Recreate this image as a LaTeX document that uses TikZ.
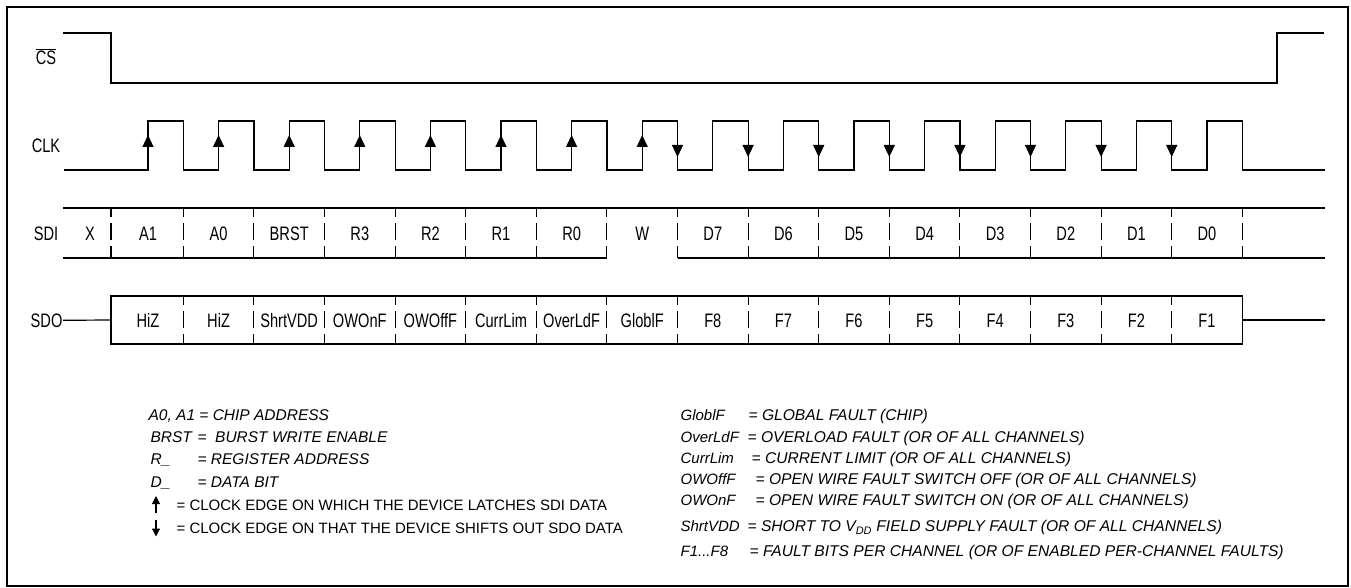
\documentclass[tikz,border=0pt]{standalone}
\usepackage{fontspec}
\setmainfont{Liberation Sans}
\newfontfamily\sigfont[FakeStretch=0.75]{Liberation Sans}
\usetikzlibrary{arrows.meta}
\tikzset{
  every picture/.style={line width=1.2pt},
  sig/.style={font=\sigfont\fontsize{19.5}{19.5}\selectfont, inner sep=0pt, anchor=base},
  wave/.style={draw=black, line width=1.2pt},
  divider/.style={draw=black, line width=1.1pt, dash pattern=on 9pt off 6pt on 17pt off 6pt on 12pt},
  legname/.style={font=\fontsize{15.5}{16}\selectfont\itshape, inner sep=0pt, anchor=base west},
  legtext/.style={font=\fontsize{15}{16}\selectfont, inner sep=0pt, anchor=base west},
  faultname/.style={font=\fontsize{15}{16}\selectfont\itshape, inner sep=0pt, anchor=base west},
  faultdef/.style={font=\fontsize{15.6}{16}\selectfont\itshape, inner sep=0pt, anchor=base west},
}

\begin{document}
\begin{tikzpicture}[x=1pt, y=-1pt,
  edge/.style={-{Triangle[length=12pt, width=11pt]}, line width=1.2pt},
  legedge/.style={-{Triangle[length=8pt, width=8pt]}, line width=1.2pt}]
  \useasboundingbox (0,0) rectangle (1351,588);
  \draw[line width=2pt] (7,7) rectangle (1348,586);
  \node[sig] (cs) at (46,64.5) {$\overline{\hbox{CS}}$};
  \node[sig] (clk) at (46,153) {CLK};
  \node[sig] (sdi) at (46,240) {SDI};
  \node[sig, anchor=base east] (sdo) at (63,327) {SDO};
  \draw[wave] (63,33) -- (111,33) -- (111,83) -- (1277,83) -- (1277,33) -- (1324,33);
  \draw[wave] (64,170) \foreach \k in {0,...,15}{ -- ({148+70.6*\k},170) -- ({148+70.6*\k},121)
    -- ({183.3+70.6*\k},121) -- ({183.3+70.6*\k},170)} -- (1325,170);
  \foreach \k in {0,...,7} \draw[edge] ({148+70.6*\k},170) -- ({148+70.6*\k},135);
  \foreach \k in {7,...,14} \draw[edge] ({183.3+70.6*\k},121) -- ({183.3+70.6*\k},157);
  \draw[wave] (63,208) -- (1325,208);
  \draw[wave] (63,258) -- (606.9,258);
  \draw[wave] (677.5,258) -- (1325,258);
  \draw[divider] (111,208) -- (111,258);
  \foreach \k in {0,...,15} \draw[divider] ({183.3+70.6*\k},208) -- ({183.3+70.6*\k},258);
  \node[sig] (x) at (90,240) {X};
  \foreach \b [count=\i from 0] in {A1,A0,BRST,R3,R2,R1,R0,W,D7,D6,D5,D4,D3,D2,D1,D0}
    \node[sig] (sdi\i) at ({148+70.6*\i},240) {\b};
  \draw[wave] (sdo.east) -- (111,320);
  \draw[wave] (111,296) rectangle (1242.3,344);
  \draw[wave] (1242.3,320) -- (1325,320);
  \foreach \k in {0,...,14} \draw[divider] ({183.3+70.6*\k},296) -- ({183.3+70.6*\k},344);
  \foreach \b [count=\i from 0] in {HiZ,HiZ,ShrtVDD,OWOnF,OWOffF,CurrLim,OverLdF,GloblF,F8,F7,F6,F5,F4,F3,F2,F1}
    \node[sig] (sdo\i) at ({148+70.6*\i},327) {\b};
  \node[legname] (addr) at (148,420.5) {A0, A1 = CHIP ADDRESS};
  \node[legname] (brst) at (150,442.5) {BRST};
  \node[legname] (brstdef) at (197,442.5) {=\hspace{0.55em}BURST WRITE ENABLE};
  \node[legname] (reg) at (150,464.5) {R\_};
  \node[legname] (regdef) at (197,464.5) {= REGISTER ADDRESS};
  \node[legname] (dat) at (150,487.5) {D\_};
  \node[legname] (datdef) at (197,487.5) {= DATA BIT};
  \node[legtext] (latch) at (176,510.5) {= CLOCK EDGE ON WHICH THE DEVICE LATCHES SDI DATA};
  \node[legtext] (shift) at (176,533.5) {= CLOCK EDGE ON THAT THE DEVICE SHIFTS OUT SDO DATA};
  \draw[legedge] ([xshift=-20pt, yshift=-2.5pt]latch.base west) -- ++(0,-17);
  \draw[legedge] ([xshift=-20pt, yshift=14pt]shift.base west) -- ++(0,17);
  \node[faultname] (glob) at (680,420.5) {GloblF};
  \node[faultdef] (globdef) at (748,420.5) {= GLOBAL FAULT (CHIP)};
  \node[faultname] (ovl) at (680,442.5) {OverLdF};
  \node[faultdef] (ovldef) at (747,442.5) {= OVERLOAD FAULT (OR OF ALL CHANNELS)};
  \node[faultname] (cur) at (680,463.5) {CurrLim};
  \node[faultdef] (curdef) at (751,463.5) {= CURRENT LIMIT (OR OF ALL CHANNELS)};
  \node[faultname] (owoff) at (680,484.5) {OWOffF};
  \node[faultdef] (owoffdef) at (755,484.5) {= OPEN WIRE FAULT SWITCH OFF (OR OF ALL CHANNELS)};
  \node[faultname] (owon) at (680,505.5) {OWOnF};
  \node[faultdef] (owondef) at (755,505.5) {= OPEN WIRE FAULT SWITCH ON (OR OF ALL CHANNELS)};
  \node[faultname] (svdd) at (680,531.5) {ShrtVDD};
  \node[faultdef] (svdddef) at (747,531.5) {= SHORT TO V\textsubscript{DD} FIELD SUPPLY FAULT (OR OF ALL CHANNELS)};
  \node[faultname] (fbit) at (680,556.5) {F1...F8};
  \node[faultdef] (fbitdef) at (749,556.5) {= FAULT BITS PER CHANNEL (OR OF ENABLED PER-CHANNEL FAULTS)};
\end{tikzpicture}
\end{document}
